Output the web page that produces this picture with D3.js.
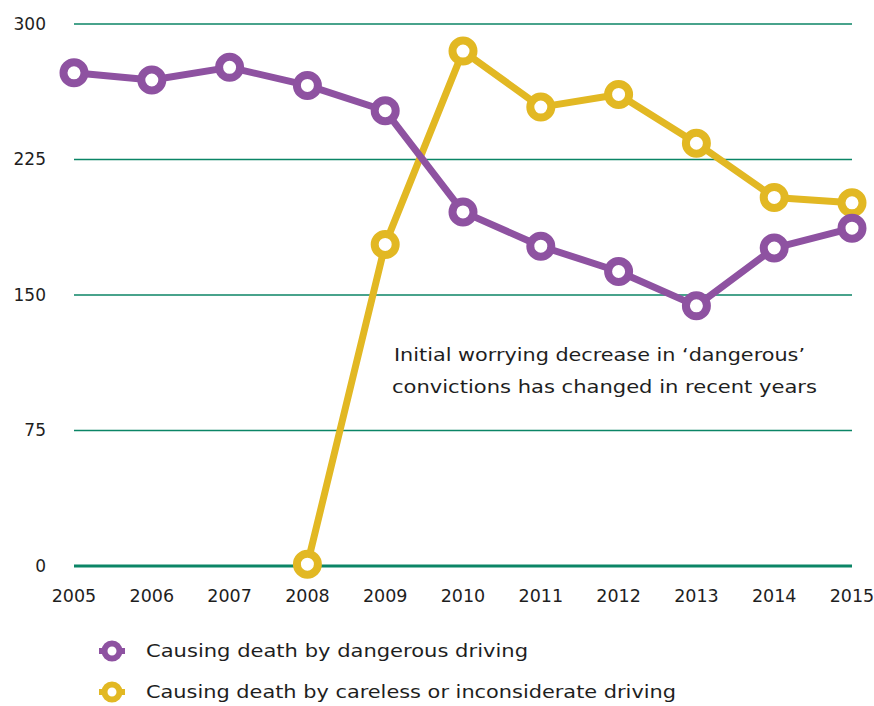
<!DOCTYPE html>
<html>
<head>
<meta charset="utf-8">
<script src="https://cdn.jsdelivr.net/npm/d3@7"></script>
<style>
  body { margin: 0; background: #fff; }
  svg { display: block; font-family: "DejaVu Sans", "Liberation Sans", sans-serif; }
</style>
</head>
<body>
<div id="chart"></div>
<script>
const years = [2005, 2006, 2007, 2008, 2009, 2010, 2011, 2012, 2013, 2014, 2015];
const dangerous = [273, 269, 276, 266, 252, 196, 177, 163, 144, 176, 187];
// careless driving offence only recorded from 2008
const careless = [null, null, null, 1, 178, 285, 254, 261, 234, 204, 201];
const yTickValues = [0, 75, 150, 225, 300];
const seriesNames = ["Causing death by dangerous driving", "Causing death by careless or inconsiderate driving"];
const noteLines = ["Initial worrying decrease in \u2018dangerous\u2019", "convictions has changed in recent years"];

const W = 874, H = 706;
const purple = "#8e52a1", yellow = "#e2b823", green = "#0b8566", ink = "#1e1e1e";

const x = d3.scaleLinear().domain([2005, 2015]).range([74, 852]);
const y = d3.scaleLinear().domain([0, 300]).range([566, 24]);

const svg = d3.select("#chart").append("svg")
    .attr("width", W).attr("height", H);

// grid lines
svg.append("g")
    .selectAll("line")
    .data(yTickValues)
    .join("line")
    .attr("x1", x(2005)).attr("x2", x(2015))
    .attr("y1", d => y(d)).attr("y2", d => y(d))
    .attr("stroke", green)
    .attr("stroke-width", d => d === 0 ? 3 : 1.3);

// y labels
svg.append("g")
    .selectAll("text")
    .data(yTickValues)
    .join("text")
    .attr("x", 46).attr("y", d => y(d))
    .attr("dy", "0.35em")
    .attr("text-anchor", "end")
    .attr("font-size", 17)
    .attr("fill", ink)
    .text(d => d);

// x labels
svg.append("g")
    .selectAll("text")
    .data(years)
    .join("text")
    .attr("x", d => x(d)).attr("y", 602)
    .attr("text-anchor", "middle")
    .attr("font-size", 17.5)
    .attr("fill", ink)
    .text(d => d);

let drawSeries = (values, color) => {
    let pts = years.map((yr, i) => ({yr, v: values[i]})).filter(d => d.v !== null);
    let line = d3.line().x(d => x(d.yr)).y(d => y(d.v));
    svg.append("path")
        .datum(pts)
        .attr("d", line)
        .attr("fill", "none")
        .attr("stroke", color)
        .attr("stroke-width", 7)
        .attr("stroke-linejoin", "round");
    svg.append("g")
        .selectAll("circle")
        .data(pts)
        .join("circle")
        .attr("cx", d => x(d.yr)).attr("cy", d => y(d.v))
        .attr("r", 10.5)
        .attr("fill", "#fff")
        .attr("stroke", color)
        .attr("stroke-width", 8);
};

drawSeries(careless, yellow);
drawSeries(dangerous, purple);

// annotation
const noteWidths = [411, 425];
svg.append("g")
    .selectAll("text")
    .data(noteLines)
    .join("text")
    .attr("x", (d, i) => i === 0 ? 394 : 392)
    .attr("y", (d, i) => 361 + i * 32)
    .attr("font-size", 18)
    .attr("textLength", (d, i) => noteWidths[i])
    .attr("lengthAdjust", "spacingAndGlyphs")
    .attr("fill", ink)
    .text(d => d);

// legend
const legendWidths = [382, 530];
const legend = svg.append("g")
    .selectAll("g")
    .data(seriesNames)
    .join("g")
    .attr("transform", (d, i) => `translate(112, ${651 + i * 41})`);
legend.append("line")
    .attr("x1", -13).attr("x2", 13)
    .attr("stroke", (d, i) => i === 0 ? purple : yellow)
    .attr("stroke-width", 6);
legend.append("circle")
    .attr("r", 7.5)
    .attr("fill", "#fff")
    .attr("stroke", (d, i) => i === 0 ? purple : yellow)
    .attr("stroke-width", 6);
legend.append("text")
    .attr("x", 34).attr("dy", "0.35em")
    .attr("font-size", 18)
    .attr("textLength", (d, i) => legendWidths[i])
    .attr("lengthAdjust", "spacingAndGlyphs")
    .attr("fill", ink)
    .text(d => d);
</script>
</body>
</html>
